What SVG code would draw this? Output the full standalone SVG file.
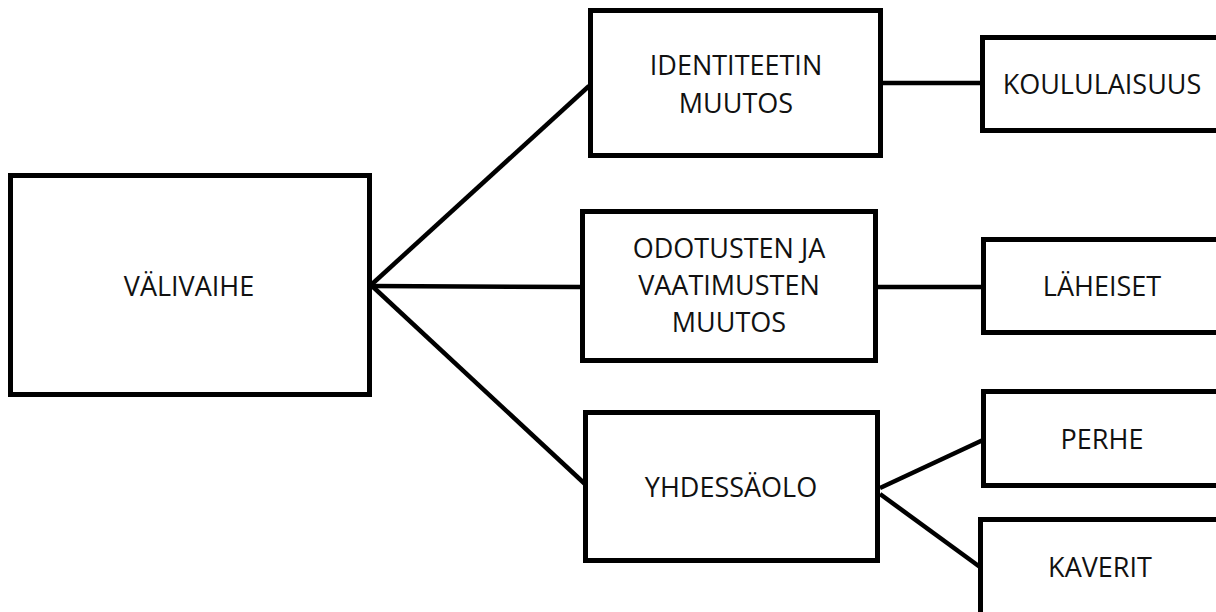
<svg xmlns="http://www.w3.org/2000/svg" width="1216" height="612" viewBox="0 0 1216 612">
  <style>
    .box { fill: #ffffff; stroke: #000000; stroke-width: 5; }
    .lbl { font-family: "Open Sans", "Noto Sans", "Liberation Sans", sans-serif; font-size: 27px; fill: #111111; text-anchor: middle; }
    .conn line { stroke: #000000; stroke-width: 4.5; stroke-linecap: butt; }
  </style>
  <rect width="1216" height="612" fill="#ffffff"/>

  <g id="connectors" class="conn">
    <line x1="371" y1="285" x2="589" y2="86"/>
    <line x1="371" y1="286" x2="582" y2="287"/>
    <line x1="371" y1="285" x2="585" y2="484"/>
    <line x1="882" y1="83" x2="982" y2="83"/>
    <line x1="878" y1="287" x2="982" y2="287"/>
    <line x1="880" y1="488" x2="983" y2="440"/>
    <line x1="880" y1="494" x2="980" y2="567"/>
  </g>

  <g id="node-valivaihe">
    <rect class="box" x="10.5" y="175.5" width="359" height="219"/>
    <text class="lbl" x="189" y="296">VÄLIVAIHE</text>
  </g>

  <g id="node-identiteetin">
    <rect class="box" x="590.5" y="10.5" width="290" height="145"/>
    <text class="lbl" x="736" y="75">IDENTITEETIN</text>
    <text class="lbl" x="736" y="113">MUUTOS</text>
  </g>

  <g id="node-odotusten">
    <rect class="box" x="582.5" y="211.5" width="293" height="149"/>
    <text class="lbl" x="729" y="258">ODOTUSTEN JA</text>
    <text class="lbl" x="729" y="295">VAATIMUSTEN</text>
    <text class="lbl" x="729" y="332">MUUTOS</text>
  </g>

  <g id="node-yhdessaolo">
    <rect class="box" x="585.5" y="412.5" width="292" height="148"/>
    <text class="lbl" x="731" y="497">YHDESSÄOLO</text>
  </g>

  <g id="node-koululaisuus">
    <rect class="box" x="982.5" y="37.5" width="260" height="93"/>
    <text class="lbl" x="1102" y="94">KOULULAISUUS</text>
  </g>

  <g id="node-laheiset">
    <rect class="box" x="983.5" y="239.5" width="260" height="93"/>
    <text class="lbl" x="1102" y="296">LÄHEISET</text>
  </g>

  <g id="node-perhe">
    <rect class="box" x="983.5" y="391.5" width="260" height="94"/>
    <text class="lbl" x="1102" y="449">PERHE</text>
  </g>

  <g id="node-kaverit">
    <rect class="box" x="980.5" y="519.5" width="260" height="110"/>
    <text class="lbl" x="1100" y="577">KAVERIT</text>
  </g>
</svg>
